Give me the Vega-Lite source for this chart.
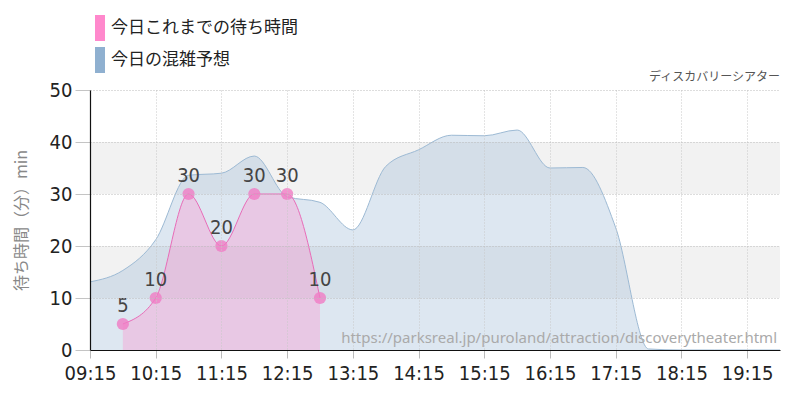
{
  "$schema": "https://vega.github.io/schema/vega-lite/v6.json",
  "width": 690,
  "height": 260,
  "autosize": {"type": "none"},
  "padding": {"left": 90, "top": 90, "right": 20, "bottom": 50},
  "background": "white",
  "datasets": {
    "waits": [
      {"series": "今日の混雑予想", "t": "2024-01-01T09:15:00", "v": 13.1},
      {"series": "今日の混雑予想", "t": "2024-01-01T09:45:00", "v": 15.3},
      {"series": "今日の混雑予想", "t": "2024-01-01T10:15:00", "v": 21.2},
      {"series": "今日の混雑予想", "t": "2024-01-01T10:45:00", "v": 33.6},
      {"series": "今日の混雑予想", "t": "2024-01-01T11:15:00", "v": 34.0},
      {"series": "今日の混雑予想", "t": "2024-01-01T11:45:00", "v": 37.3},
      {"series": "今日の混雑予想", "t": "2024-01-01T12:15:00", "v": 29.5},
      {"series": "今日の混雑予想", "t": "2024-01-01T12:45:00", "v": 28.4},
      {"series": "今日の混雑予想", "t": "2024-01-01T13:15:00", "v": 23.1},
      {"series": "今日の混雑予想", "t": "2024-01-01T13:45:00", "v": 35.3},
      {"series": "今日の混雑予想", "t": "2024-01-01T14:15:00", "v": 38.5},
      {"series": "今日の混雑予想", "t": "2024-01-01T14:45:00", "v": 41.3},
      {"series": "今日の混雑予想", "t": "2024-01-01T15:15:00", "v": 41.2},
      {"series": "今日の混雑予想", "t": "2024-01-01T15:45:00", "v": 42.3},
      {"series": "今日の混雑予想", "t": "2024-01-01T16:15:00", "v": 35.0},
      {"series": "今日の混雑予想", "t": "2024-01-01T16:45:00", "v": 35.1},
      {"series": "今日の混雑予想", "t": "2024-01-01T17:15:00", "v": 23.5},
      {"series": "今日の混雑予想", "t": "2024-01-01T17:45:00", "v": 0.2},
      {"series": "今日の混雑予想", "t": "2024-01-01T18:15:00", "v": 0},
      {"series": "今日の混雑予想", "t": "2024-01-01T18:45:00", "v": 0},
      {"series": "今日の混雑予想", "t": "2024-01-01T19:15:00", "v": 0},
      {"series": "今日の混雑予想", "t": "2024-01-01T19:45:00", "v": 0},
      {"series": "今日これまでの待ち時間", "t": "2024-01-01T09:45:00", "v": 5},
      {"series": "今日これまでの待ち時間", "t": "2024-01-01T10:15:00", "v": 10},
      {"series": "今日これまでの待ち時間", "t": "2024-01-01T10:45:00", "v": 30},
      {"series": "今日これまでの待ち時間", "t": "2024-01-01T11:15:00", "v": 20},
      {"series": "今日これまでの待ち時間", "t": "2024-01-01T11:45:00", "v": 30},
      {"series": "今日これまでの待ち時間", "t": "2024-01-01T12:15:00", "v": 30},
      {"series": "今日これまでの待ち時間", "t": "2024-01-01T12:45:00", "v": 10}
    ],
    "bands": [
      {"lo": 10, "hi": 20},
      {"lo": 30, "hi": 40}
    ],
    "notes": [
      {"kind": "name", "label": "ディスカバリーシアター"},
      {"kind": "url", "label": "https://parksreal.jp/puroland/attraction/discoverytheater.html"}
    ]
  },
  "config": {
    "view": {"stroke": null},
    "axis": {
      "labelFont": "DejaVu Sans Condensed, sans-serif",
      "labelFontSize": 20,
      "labelColor": "#222222",
      "domainColor": "#111111",
      "domainWidth": 1.2
    },
    "legend": {
      "labelFont": "Noto Sans CJK JP",
      "labelFontSize": 17,
      "labelColor": "#222222",
      "labelLimit": 0
    }
  },
  "layer": [
    {
      "data": {"name": "bands"},
      "mark": {"type": "rect", "fill": "#f2f2f2"},
      "encoding": {
        "y": {"field": "lo", "type": "quantitative", "title": "待ち時間（分）min"},
        "y2": {"field": "hi"}
      }
    },
    {
      "data": {"name": "waits"},
      "transform": [{"filter": "datum.series === '今日の混雑予想'"}],
      "mark": {"type": "area", "interpolate": "monotone", "fillOpacity": 0.3},
      "encoding": {
        "x": {
          "field": "t",
          "type": "temporal",
          "scale": {
            "domain": [
              {"year": 2024, "month": 1, "date": 1, "hours": 9, "minutes": 15},
              {"year": 2024, "month": 1, "date": 1, "hours": 19, "minutes": 45}
            ]
          },
          "axis": {
            "title": null,
            "values": [
              {"year": 2024, "month": 1, "date": 1, "hours": 9, "minutes": 15},
              {"year": 2024, "month": 1, "date": 1, "hours": 9, "minutes": 45},
              {"year": 2024, "month": 1, "date": 1, "hours": 10, "minutes": 15},
              {"year": 2024, "month": 1, "date": 1, "hours": 10, "minutes": 45},
              {"year": 2024, "month": 1, "date": 1, "hours": 11, "minutes": 15},
              {"year": 2024, "month": 1, "date": 1, "hours": 11, "minutes": 45},
              {"year": 2024, "month": 1, "date": 1, "hours": 12, "minutes": 15},
              {"year": 2024, "month": 1, "date": 1, "hours": 12, "minutes": 45},
              {"year": 2024, "month": 1, "date": 1, "hours": 13, "minutes": 15},
              {"year": 2024, "month": 1, "date": 1, "hours": 13, "minutes": 45},
              {"year": 2024, "month": 1, "date": 1, "hours": 14, "minutes": 15},
              {"year": 2024, "month": 1, "date": 1, "hours": 14, "minutes": 45},
              {"year": 2024, "month": 1, "date": 1, "hours": 15, "minutes": 15},
              {"year": 2024, "month": 1, "date": 1, "hours": 15, "minutes": 45},
              {"year": 2024, "month": 1, "date": 1, "hours": 16, "minutes": 15},
              {"year": 2024, "month": 1, "date": 1, "hours": 16, "minutes": 45},
              {"year": 2024, "month": 1, "date": 1, "hours": 17, "minutes": 15},
              {"year": 2024, "month": 1, "date": 1, "hours": 17, "minutes": 45},
              {"year": 2024, "month": 1, "date": 1, "hours": 18, "minutes": 15},
              {"year": 2024, "month": 1, "date": 1, "hours": 18, "minutes": 45},
              {"year": 2024, "month": 1, "date": 1, "hours": 19, "minutes": 15},
              {"year": 2024, "month": 1, "date": 1, "hours": 19, "minutes": 45}
            ],
            "labelExpr": "minutes(datum.value) == 15 ? timeFormat(datum.value, '%H:%M') : ''",
            "grid": true,
            "gridColor": "#c8c8c8",
            "gridDash": {"condition": {"test": "minutes(datum.value) == 15", "value": [1, 2]}, "value": [4, 3]},
            "tickSize": 8,
            "tickColor": {"condition": {"test": "minutes(datum.value) == 15", "value": "#bbbbbb"}, "value": "transparent"},
            "labelPadding": 5,
            "labelFlush": false,
            "labelOverlap": false,
            "zindex": 1
          }
        },
        "y": {
          "field": "v",
          "type": "quantitative",
          "title": "待ち時間（分）min",
          "scale": {"domain": [0, 50], "nice": false},
          "axis": {
            "values": [0, 10, 20, 30, 40, 50],
            "grid": true,
            "gridDash": [1, 2],
            "gridColor": "#bbbbbb",
            "tickSize": 15,
            "tickColor": "#c4c4c4",
            "labelPadding": 3,
            "titleFont": "Noto Sans CJK JP",
            "titleFontSize": 16,
            "titleFontWeight": "normal",
            "titleColor": "#888888",
            "titlePadding": 20,
            "zindex": 1
          }
        },
        "color": {
          "field": "series",
          "type": "nominal",
          "scale": {"domain": ["今日これまでの待ち時間", "今日の混雑予想"], "range": ["#ff88cc", "#8fb0d0"]},
          "legend": {
            "title": null,
            "orient": "none",
            "legendX": 5,
            "legendY": -75,
            "direction": "vertical",
            "padding": 0,
            "symbolType": "M-1,-1h0.77v2h-0.77z",
            "symbolSize": 676,
            "symbolOpacity": 1,
            "symbolStrokeWidth": 0,
            "rowPadding": 6,
            "labelOffset": -10,
            "labelLimit": 0
          }
        }
      }
    },
    {
      "data": {"name": "waits"},
      "transform": [{"filter": "datum.series === '今日の混雑予想'"}],
      "mark": {"type": "line", "interpolate": "monotone", "stroke": "#9dbad4", "strokeWidth": 1},
      "encoding": {
        "x": {"field": "t", "type": "temporal"},
        "y": {"field": "v", "type": "quantitative", "title": "待ち時間（分）min"}
      }
    },
    {
      "data": {"name": "waits"},
      "transform": [{"filter": "datum.series === '今日これまでの待ち時間'"}],
      "mark": {"type": "area", "interpolate": "monotone", "fillOpacity": 0.33},
      "encoding": {
        "x": {"field": "t", "type": "temporal"},
        "y": {"field": "v", "type": "quantitative", "title": "待ち時間（分）min"},
        "color": {"field": "series", "type": "nominal"}
      }
    },
    {
      "data": {"name": "waits"},
      "transform": [{"filter": "datum.series === '今日これまでの待ち時間'"}],
      "mark": {"type": "line", "interpolate": "monotone", "stroke": "#e86cb8", "strokeWidth": 1},
      "encoding": {
        "x": {"field": "t", "type": "temporal"},
        "y": {"field": "v", "type": "quantitative", "title": "待ち時間（分）min"}
      }
    },
    {
      "data": {"name": "waits"},
      "transform": [{"filter": "datum.series === '今日これまでの待ち時間'"}],
      "mark": {"type": "point", "filled": true, "fill": "#f07cc4", "opacity": 0.8, "size": 150, "strokeWidth": 0},
      "encoding": {
        "x": {"field": "t", "type": "temporal"},
        "y": {"field": "v", "type": "quantitative", "title": "待ち時間（分）min"}
      }
    },
    {
      "data": {"name": "waits"},
      "transform": [{"filter": "datum.series === '今日これまでの待ち時間'"}],
      "mark": {"type": "text", "font": "DejaVu Sans Condensed, sans-serif", "fontSize": 20, "fill": "#444444", "baseline": "bottom", "dy": -8},
      "encoding": {
        "x": {"field": "t", "type": "temporal"},
        "y": {"field": "v", "type": "quantitative", "title": "待ち時間（分）min"},
        "text": {"field": "v", "type": "quantitative"}
      }
    },
    {
      "data": {"name": "notes"},
      "transform": [{"filter": "datum.kind === 'name'"}],
      "mark": {"type": "text", "font": "Noto Sans CJK JP", "fontSize": 12, "fill": "#555555", "align": "right", "baseline": "bottom", "dy": -6},
      "encoding": {
        "x": {"datum": {"year": 2024, "month": 1, "date": 1, "hours": 19, "minutes": 45}, "type": "temporal"},
        "y": {"datum": 50, "type": "quantitative"},
        "text": {"field": "label", "type": "nominal"}
      }
    },
    {
      "data": {"name": "notes"},
      "transform": [{"filter": "datum.kind === 'url'"}],
      "mark": {"type": "text", "font": "Noto Sans", "fontSize": 15, "fill": "#aaaaaa", "align": "right", "baseline": "bottom", "dx": -3, "dy": -4},
      "encoding": {
        "x": {"datum": {"year": 2024, "month": 1, "date": 1, "hours": 19, "minutes": 45}, "type": "temporal"},
        "y": {"datum": 0, "type": "quantitative"},
        "text": {"field": "label", "type": "nominal"}
      }
    }
  ]
}
